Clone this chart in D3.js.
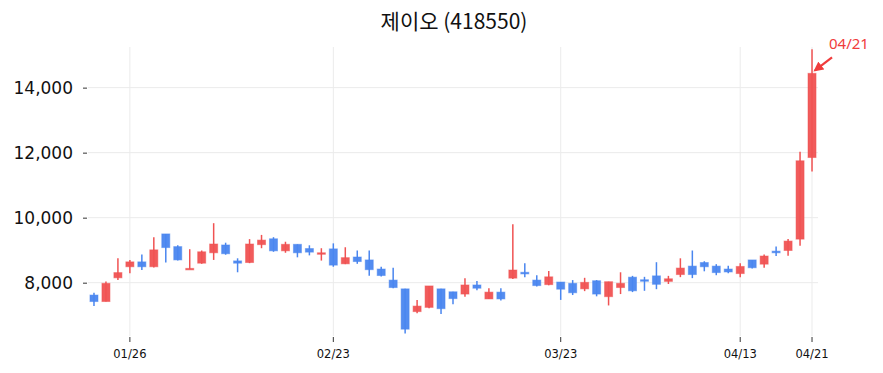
<!DOCTYPE html>
<html>
<head>
<meta charset="utf-8">
<script src="https://cdn.jsdelivr.net/npm/d3@7"></script>
<style>
  body { margin: 0; background: #fff; }
  svg { display: block; }
</style>
</head>
<body>
<script>
// trading days shown on the chart
var dates = ['01/21', '01/22', '01/23', '01/26', '01/27', '01/28', '01/29', '01/30',
             '02/02', '02/03', '02/04', '02/05', '02/06', '02/09', '02/10', '02/11',
             '02/12', '02/13', '02/19', '02/20', '02/23', '02/24', '02/25', '02/26',
             '02/27', '03/03', '03/04', '03/05', '03/06', '03/09', '03/10', '03/11',
             '03/12', '03/13', '03/16', '03/17', '03/18', '03/19', '03/20', '03/23',
             '03/24', '03/25', '03/26', '03/27', '03/30', '03/31', '04/01', '04/02',
             '04/03', '04/06', '04/07', '04/08', '04/09', '04/10', '04/13', '04/14',
             '04/15', '04/16', '04/17', '04/20', '04/21'];

var opens  = [7620, 7420, 8150, 8490, 8640, 8490, 9500, 9110, 8420, 8600, 8920, 9160, 8670,
              8620, 9170, 9350, 8980, 9180, 9050, 8880, 9040, 8580, 8790, 8700, 8420, 8080,
              7810, 7110, 7240, 7810, 7720, 7650, 7930, 7500, 7710, 8140, 8320, 8080, 7940,
              8020, 7980, 7810, 8060, 7570, 7850, 8170, 8090, 8210, 8040, 8250, 8510, 8620,
              8510, 8420, 8280, 8700, 8570, 8970, 8990, 9340, 11850];
var highs  = [7690, 8040, 8750, 8700, 8870, 9400, 9500, 9150, 9030, 8990, 9830, 9230, 8750,
              9340, 9470, 9400, 9260, 9180, 9150, 9060, 9210, 9090, 8990, 8990, 8490, 8460,
              7810, 7470, 7900, 7810, 7720, 8140, 8050, 7830, 7830, 9800, 8600, 8230, 8360,
              8020, 8080, 8150, 8080, 8030, 8320, 8210, 8180, 8630, 8210, 8750, 8990, 8660,
              8570, 8520, 8600, 8700, 8870, 9110, 9340, 12030, 15180];
var lows   = [7280, 7420, 8080, 8290, 8390, 8470, 8620, 8680, 8420, 8580, 8700, 8860, 8320,
              8600, 9060, 8950, 8920, 8780, 8840, 8680, 8490, 8570, 8580, 8210, 8190, 7830,
              6440, 7060, 7210, 7040, 7340, 7570, 7770, 7500, 7450, 8110, 8170, 7880, 7920,
              7470, 7620, 7740, 7580, 7300, 7650, 7710, 7750, 7800, 7960, 8170, 8140, 8350,
              8230, 8290, 8170, 8440, 8460, 8820, 8830, 9140, 11420];
var closes = [7420, 7980, 8310, 8640, 8490, 9010, 9080, 8700, 8440, 8950, 9190, 8890, 8600,
              9190, 9310, 8980, 9180, 8920, 8940, 8920, 8540, 8770, 8650, 8400, 8220, 7850,
              6570, 7280, 7900, 7200, 7510, 7930, 7830, 7710, 7500, 8390, 8270, 7910, 8180,
              7800, 7690, 8010, 7650, 8030, 7980, 7750, 8050, 7950, 8120, 8450, 8250, 8490,
              8310, 8330, 8500, 8460, 8820, 8920, 9280, 11750, 14440];

var xTicks = ['01/26', '02/23', '03/23', '04/13', '04/21'];
var yTicks = [8000, 10000, 12000, 14000];

var title = '제이오 (418550)';
var lastLabel = '04/21';

var width = 883, height = 373;
var plotL = 88, plotR = 818, plotT = 47, plotB = 336;
var upColor = '#f05252', downColor = '#4a86ef', noteColor = '#f03c3c';

var candles = dates.map(function(d, i) {
    return { date: d, o: opens[i], h: highs[i], l: lows[i], c: closes[i] };
});

var svg = d3.select('body')
    .append('svg')
    .attr('width', width)
    .attr('height', height);

var x = d3.scaleBand()
    .domain(dates)
    .range([plotL, plotR])
    .paddingInner(0.33)
    .paddingOuter(0.165);

var y = d3.scaleLinear()
    .domain([6360, 15250])
    .range([plotB, plotT]);

function cx(d) { return x(d) + x.bandwidth() / 2; }

// grid
svg.append('g')
    .selectAll('line')
    .data(yTicks)
    .enter()
    .append('line')
    .attr('x1', plotL).attr('x2', plotR)
    .attr('y1', function(d) { return y(d); })
    .attr('y2', function(d) { return y(d); })
    .attr('stroke', '#ebebeb');

svg.append('g')
    .selectAll('line')
    .data(xTicks)
    .enter()
    .append('line')
    .attr('x1', cx).attr('x2', cx)
    .attr('y1', plotT).attr('y2', plotB)
    .attr('stroke', '#ebebeb');

// axes
var yAxis = svg.append('g')
    .attr('transform', 'translate(' + (plotL - 1) + ',0)')
    .call(d3.axisLeft(y).tickValues(yTicks).tickSize(4).tickPadding(10)
        .tickFormat(d3.format(',')));
yAxis.select('.domain').remove();
yAxis.selectAll('line').attr('stroke', '#333');
yAxis.selectAll('text')
    .attr('fill', '#111')
    .style('font', '17px "DejaVu Sans"');

var xAxis = svg.append('g')
    .attr('transform', 'translate(0,' + (plotB + 1) + ')')
    .call(d3.axisBottom(x).tickValues(xTicks).tickSize(5).tickPadding(8));
xAxis.select('.domain').remove();
xAxis.selectAll('line').attr('stroke', '#333');
xAxis.selectAll('text')
    .attr('fill', '#111')
    .style('font', '11.5px "DejaVu Sans"');

// candles
var g = svg.selectAll('g.candle')
    .data(candles)
    .enter()
    .append('g')
    .attr('class', 'candle');

function col(d) { return d.c >= d.o ? upColor : downColor; }

g.append('line')
    .attr('x1', function(d) { return cx(d.date); })
    .attr('x2', function(d) { return cx(d.date); })
    .attr('y1', function(d) { return y(d.h); })
    .attr('y2', function(d) { return y(d.l); })
    .attr('stroke', col)
    .attr('stroke-width', 1.5);

g.append('rect')
    .attr('x', function(d) { return x(d.date); })
    .attr('width', x.bandwidth())
    .attr('y', function(d) { return y(Math.max(d.o, d.c)); })
    .attr('height', function(d) { return Math.max(1.5, Math.abs(y(d.o) - y(d.c))); })
    .attr('fill', col)
    .attr('fill-opacity', 0.95)
    .attr('stroke', col)
    .attr('stroke-opacity', 0.5)
    .attr('stroke-width', 1);

// title
svg.append('text')
    .attr('x', 454)
    .attr('y', 29)
    .attr('text-anchor', 'middle')
    .attr('fill', '#111')
    .style('font', '21px "Noto Sans CJK KR"')
    .text(title);

// last-day annotation
var last = candles[candles.length - 1];
var ax = cx(last.date) + 3, ay = y(last.c) - 3;

svg.append('defs').append('marker')
    .attr('id', 'arrow')
    .attr('viewBox', '0 0 10 10')
    .attr('refX', 8).attr('refY', 5)
    .attr('markerWidth', 4.5).attr('markerHeight', 4.5)
    .attr('orient', 'auto')
    .append('path')
    .attr('d', 'M0,0 L10,5 L0,10 z')
    .attr('fill', noteColor);

svg.append('line')
    .attr('x1', ax + 17).attr('y1', ay - 13)
    .attr('x2', ax).attr('y2', ay)
    .attr('stroke', noteColor)
    .attr('stroke-width', 2.2)
    .attr('marker-end', 'url(#arrow)');

svg.append('text')
    .attr('x', ax + 14)
    .attr('y', ay - 21)
    .attr('fill', noteColor)
    .style('font', '15px "Noto Sans"')
    .text(lastLabel);
</script>
</body>
</html>
